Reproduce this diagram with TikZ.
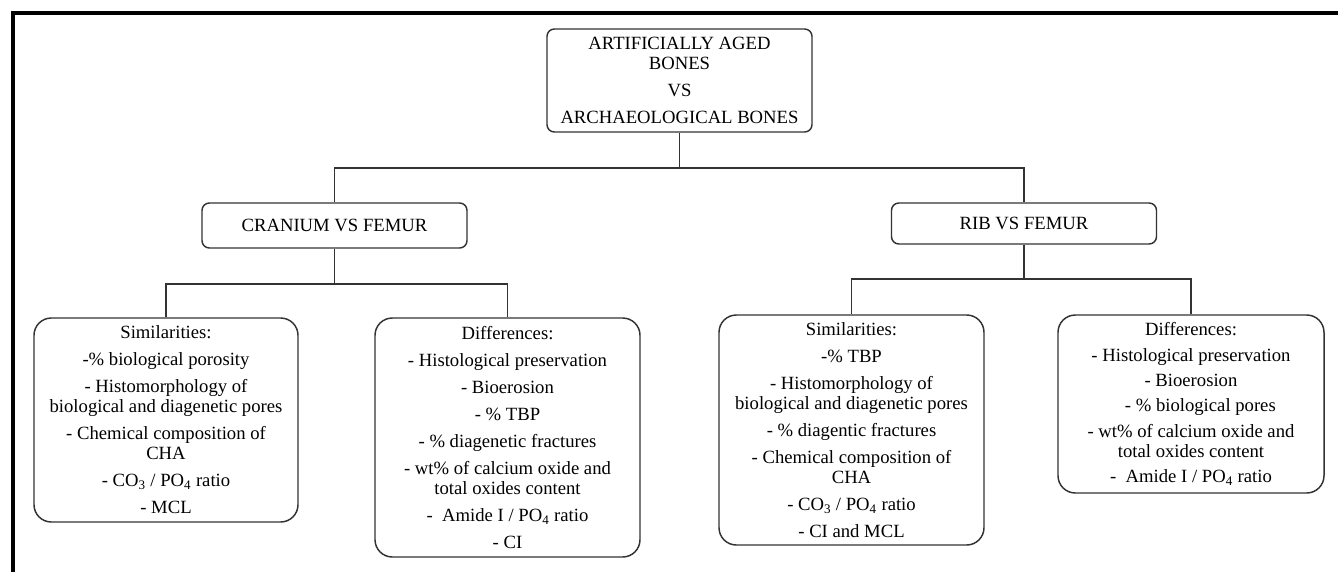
\documentclass[tikz,border=0pt]{standalone}
\usepackage{fontspec}
\setmainfont{Liberation Serif}
\begin{document}
\begin{tikzpicture}[x=0.75pt,y=-0.75pt,
  box/.style={draw=black!80, line width=1.1pt, inner sep=0pt, align=center,
    font=\fontsize{14}{15}\selectfont, text=black},
  hbox/.style={box, rounded corners=5.5pt},
  cbox/.style={box, rounded corners=13pt},
  link/.style={draw=black!80, line width=1pt},
  frame/.style={draw=black, line width=3pt, line join=miter}]
\useasboundingbox (0,0) rectangle (1338,571);
\fill[white] (0,0) rectangle (1338,571);
\draw[frame] (13,575) -- (13,13) -- (1342,13);

\node[hbox, minimum width=198.75pt, minimum height=77.25pt] (top) at (679.5,80.5)
  {ARTIFICIALLY AGED\\BONES\\[5.25pt]VS\\[5.25pt]ARCHAEOLOGICAL BONES};

\node[hbox, minimum width=198.75pt, minimum height=33.75pt] (cran) at (334.5,225.5)
  {CRANIUM VS FEMUR};
\node[hbox, minimum width=198.75pt, minimum height=30.75pt] (rib) at (1024,223.5)
  {RIB VS FEMUR};

\node[cbox, minimum width=198pt, minimum height=153pt] (lsim) at (166,420)
  {Similarities:\\[5.25pt]
   -\% biological porosity\\[5.25pt]
   - Histomorphology of\\biological and diagenetic pores\\[5.25pt]
   - Chemical composition of\\CHA\\[5.25pt]
   - CO\textsubscript{3} / PO\textsubscript{4} ratio\\[5.25pt]
   - MCL};

\node[cbox, minimum width=198.75pt, minimum height=179.25pt] (ldiff) at (507.5,437.5)
  {Differences:\\[5.25pt]
   - Histological preservation\\[5.25pt]
   - Bioerosion\\[5.25pt]
   - \% TBP\\[5.25pt]
   - \% diagenetic fractures\\[5.25pt]
   - wt\% of calcium oxide and\\total oxides content\\[5.25pt]
   -\ \ Amide I / PO\textsubscript{4} ratio\\[5.25pt]
   - CI};

\node[cbox, minimum width=198.75pt, minimum height=172.5pt] (rsim) at (851.5,430)
  {Similarities:\\[5.25pt]
   -\% TBP\\[5.25pt]
   - Histomorphology of\\biological and diagenetic pores\\[5.25pt]
   - \% diagentic fractures\\[5.25pt]
   - Chemical composition of\\CHA\\[5.25pt]
   - CO\textsubscript{3} / PO\textsubscript{4} ratio\\[5.25pt]
   - CI and MCL};

\node[cbox, minimum width=199.5pt, minimum height=133.5pt] (rdiff) at (1191,404)
  {Differences:\\[4pt]
   - Histological preservation\\[4pt]
   - Bioerosion\\[4pt]
   \hspace{1em}- \% biological pores\\[4pt]
   - wt\% of calcium oxide and\\total oxides content\\[4pt]
   -\ \ Amide I / PO\textsubscript{4} ratio};

\coordinate (j1) at (679.5,168);
\coordinate (j2) at (334.5,284);
\coordinate (j3) at (1024,279);

\draw[link] (top.south) -- (j1);
\draw[link] (j1) -| (cran.north);
\draw[link] (j1) -| (rib.north);
\draw[link] (cran.south) -- (j2);
\draw[link] (j2) -| (lsim.north);
\draw[link] (j2) -| (ldiff.north);
\draw[link] (rib.south) -- (j3);
\draw[link] (j3) -| (rsim.north);
\draw[link] (j3) -| (rdiff.north);
\end{tikzpicture}
\end{document}
